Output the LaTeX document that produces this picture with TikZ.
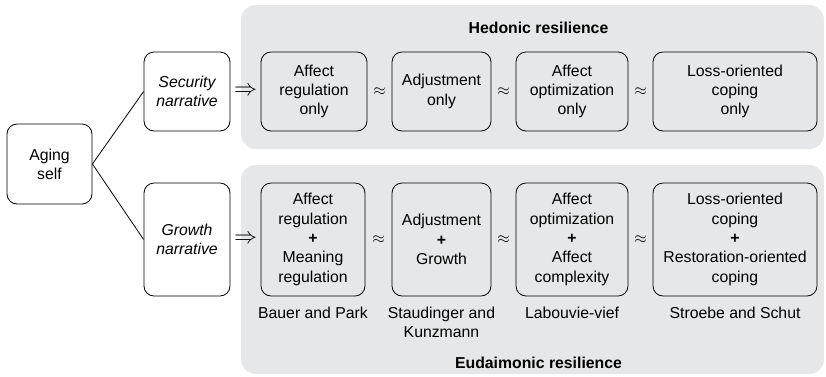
\documentclass[tikz,border=0pt]{standalone}
\usepackage{fontspec}
\setmainfont{Liberation Sans}
\usetikzlibrary{calc}
\definecolor{panelgray}{RGB}{230,231,232}
\tikzset{boxstyle/.style={draw,rounded corners=10pt,line width=0.8pt,align=center,inner sep=0pt},
  panelstyle/.style={fill=panelgray,rounded corners=15pt},
  titlestyle/.style={font=\fontsize{15.8}{19.3}\selectfont\bfseries},
  citestyle/.style={align=center,anchor=north,inner sep=0pt},
  signstyle/.style={font=\fontsize{10}{12}\selectfont,inner sep=0pt}}

\begin{document}
\begin{tikzpicture}[x=1pt,y=-1pt,font=\fontsize{15.8}{19.3}\selectfont]
  \useasboundingbox (0,0) rectangle (826,376);
  % grey panels
  \fill[panelstyle] (241,5) rectangle (824,149);
  \fill[panelstyle] (241,165) rectangle (824,374);
  \node[titlestyle] (hedonic) at (538.5,28) {Hedonic resilience};
  \node[titlestyle] (eudaimonic) at (538.5,363) {Eudaimonic resilience};
  % setup the left nodes
  \node[boxstyle,minimum width=85pt,minimum height=80pt] (aging) at (49.5,164) {Aging\\self};
  \node[boxstyle,minimum width=86pt,minimum height=79pt] (security) at (187,91.5) {\itshape Security\\\itshape narrative};
  \node[boxstyle,minimum width=86pt,minimum height=113pt] (growth) at (187,239.5) {\itshape Growth\\\itshape narrative};
  \draw[line width=0.8pt] (aging.east) -- (security.west);
  \draw[line width=0.8pt] (aging.east) -- (growth.west);
  % hedonic row
  \foreach \i/\xc/\w/\txt in {1/314/106/{Affect\\regulation\\only},
      2/441.5/99/{Adjustment\\only},
      3/572/112/{Affect\\optimization\\only},
      4/735/164/{Loss-oriented\\coping\\only}}
  {
    \node[boxstyle,minimum width=\w pt,minimum height=79pt] (h\i) at (\xc,91.5) {\txt};
  }
  % eudaimonic row
  \foreach \i/\xc/\w/\txt in {1/313/104/{Affect\\regulation\\\textbf{+}\\Meaning\\regulation},
      2/441.5/99/{Adjustment\\\textbf{+}\\Growth},
      3/572/112/{Affect\\optimization\\\textbf{+}\\Affect\\complexity},
      4/735/164/{Loss-oriented\\coping\\\textbf{+}\\Restoration-oriented\\coping}}
  {
    \node[boxstyle,minimum width=\w pt,minimum height=113pt] (e\i) at (\xc,239.5) {\txt};
  }
  % arrows and approx signs
  \node[signstyle] (toh) at ($(security.east)!0.5!(h1.west)$) {\scalebox{2.3}{$\Rightarrow$}};
  \node[signstyle] (toe) at ($(growth.east)!0.5!(e1.west)$) {\scalebox{2.3}{$\Rightarrow$}};
  \foreach \a/\b in {1/2,2/3,3/4}
  {
    \node[signstyle] (ha\a) at ($(h\a.east)!0.5!(h\b.west)$) {\scalebox{1.6}{$\approx$}};
    \node[signstyle] (ea\a) at ($(e\a.east)!0.5!(e\b.west)$) {\scalebox{1.6}{$\approx$}};
  }
  % citations
  \node[citestyle] (cite1) at ($(e1.south)+(0,10)$) {Bauer and Park};
  \node[citestyle] (cite2) at ($(e2.south)+(0,10)$) {Staudinger and\\Kunzmann};
  \node[citestyle] (cite3) at ($(e3.south)+(0,10)$) {Labouvie-vief};
  \node[citestyle] (cite4) at ($(e4.south)+(0,10)$) {Stroebe and Schut};
\end{tikzpicture}
\end{document}
